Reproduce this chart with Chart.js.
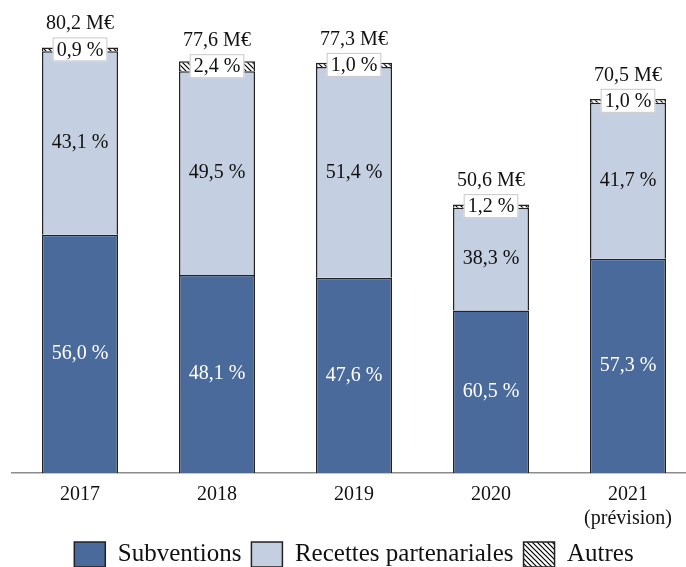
<!DOCTYPE html>
<html lang="fr">
<head>
<meta charset="utf-8">
<script src="https://cdn.jsdelivr.net/npm/chart.js@4.4.1/dist/chart.umd.min.js"></script>
<style>
  html, body { margin: 0; padding: 0; background: #fff; overflow: hidden; }
  #wrap { position: relative; width: 686px; height: 567px; overflow: hidden; }
  #chart { position: absolute; left: 0; top: 0; }
</style>
</head>
<body>
<div id="wrap"><canvas id="chart" width="700" height="577"></canvas></div>
<script>
/* DATA */
const years = [["2017"], ["2018"], ["2019"], ["2020"], ["2021", "(prévision)"]];
const totals = [80.2, 77.6, 77.3, 50.6, 70.5]; // M€
const subventionsPct = [56.0, 48.1, 47.6, 60.5, 57.3];
const recettesPct = [43.1, 49.5, 51.4, 38.3, 41.7];
const autresPct = [0.9, 2.4, 1.0, 1.2, 1.0];
const seriesNames = ["Subventions", "Recettes partenariales", "Autres"];

const FONT = "'Liberation Serif', 'DejaVu Serif', serif";
const DARK = "#4a6a9b";
const LIGHT = "#c4cfe1";
const EDGE = "#222";

/* HELPERS */
const fmt = n => n.toFixed(1).replace(".", ",");
const share = (pcts, i) => totals[i] * pcts[i] / 100;

function hatch() {
  const c = document.createElement("canvas");
  c.width = 5; c.height = 5;
  const g = c.getContext("2d");
  g.fillStyle = "#fff";
  g.fillRect(0, 0, 5, 5);
  g.strokeStyle = "#000";
  g.lineWidth = 1.2;
  g.beginPath();
  g.moveTo(0, 0); g.lineTo(5, 5);
  g.moveTo(-1, 4); g.lineTo(1, 6);
  g.moveTo(4, -1); g.lineTo(6, 1);
  g.stroke();
  return g.createPattern(c, "repeat");
}

/* LABELS: % inside segments, boxed % for "Autres", total above */
const segLabels = {
  id: "segLabels",
  afterDatasetsDraw(chart) {
    const ctx = chart.ctx;
    const pcts = [subventionsPct, recettesPct];
    ctx.save();
    ctx.font = "20px " + FONT;
    ctx.textAlign = "center";
    ctx.textBaseline = "middle";

    [0, 1].forEach(di => {
      chart.getDatasetMeta(di).data.forEach((bar, i) => {
        ctx.fillStyle = di === 0 ? "#fff" : "#111";
        ctx.fillText(fmt(pcts[di][i]) + " %", bar.x, (bar.y + bar.base) / 2);
      });
    });

    chart.getDatasetMeta(2).data.forEach((bar, i) => {
      const txt = fmt(autresPct[i]) + " %";
      const w = ctx.measureText(txt).width + 8;
      const cy = (bar.y + bar.base) / 2;
      const top = cy - 12;
      ctx.fillStyle = "#fff";
      ctx.fillRect(bar.x - w / 2, top, w, 24);
      ctx.strokeStyle = "#c8c8c8";
      ctx.lineWidth = 1;
      ctx.strokeRect(bar.x - w / 2 + 0.5, top + 0.5, w - 1, 23);
      ctx.fillStyle = "#111";
      ctx.textBaseline = "middle";
      ctx.fillText(txt, bar.x, cy + 1);
      ctx.textBaseline = "alphabetic";
      ctx.fillText(fmt(totals[i]) + " M€", bar.x, top - 8);
    });
    ctx.restore();
  }
};

/* CHART */
new Chart(document.getElementById("chart"), {
  type: "bar",
  data: {
    labels: years,
    datasets: [
      {
        label: seriesNames[0],
        data: totals.map((_, i) => share(subventionsPct, i)),
        backgroundColor: DARK
      },
      {
        label: seriesNames[1],
        data: totals.map((_, i) => share(recettesPct, i)),
        backgroundColor: LIGHT
      },
      {
        label: seriesNames[2],
        data: totals.map((_, i) => share(autresPct, i)),
        backgroundColor: hatch()
      }
    ].map(ds => Object.assign(ds, {
      borderColor: EDGE,
      borderWidth: 1.5,
      barPercentage: 0.555,
      categoryPercentage: 1
    }))
  },
  options: {
    responsive: false,
    animation: false,
    layout: { padding: { top: 22, left: 11.5, right: 3.5, bottom: 0 } },
    scales: {
      x: {
        stacked: true,
        grid: { display: false, drawTicks: false },
        border: { color: "#8c8c8c", width: 1.5 },
        ticks: { color: "#111", font: { family: FONT, size: 20 }, padding: 10 },
        // pull the legend a little closer to the year labels
        afterFit: s => { s.height -= 9; }
      },
      y: { stacked: true, display: false, min: 0, max: 85 }
    },
    plugins: {
      tooltip: { enabled: false },
      legend: {
        position: "bottom",
        labels: {
          color: "#111",
          font: { family: FONT, size: 25 },
          boxWidth: 31,
          boxHeight: 25,
          padding: 10
        }
      }
    }
  },
  plugins: [segLabels]
});
</script>
</body>
</html>
